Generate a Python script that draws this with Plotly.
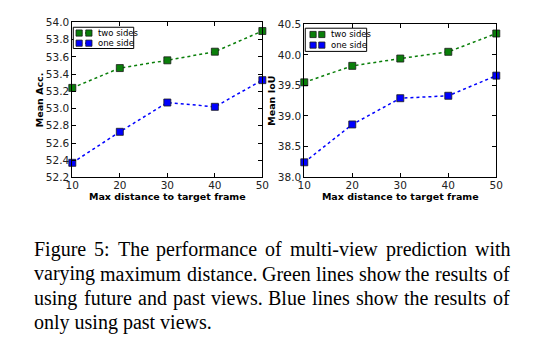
import plotly.graph_objects as go

x_vals = [10, 20, 30, 40, 50]
acc_two = [53.24, 53.47, 53.56, 53.66, 53.90]
acc_one = [52.37, 52.73, 53.07, 53.02, 53.33]
iou_two = [39.55, 39.82, 39.94, 40.05, 40.35]
iou_one = [38.24, 38.86, 39.29, 39.33, 39.66]
acc_ticks = [52.2, 52.4, 52.6, 52.8, 53.0, 53.2, 53.4, 53.6, 53.8, 54.0]
iou_ticks = [38.0, 38.5, 39.0, 39.5, 40.0, 40.5]
x_ticks = [10, 20, 30, 40, 50]
series_names = ["two sides", "one side"]
caption = [
    "Figure 5: The performance of multi-view prediction with",
    "varying maximum distance. Green lines show the results of",
    "using future and past views. Blue lines show the results of",
    "only using past views.",
]

W, H = 553, 352
GREEN = "#0a7f0a"
BLUE = "#0000ff"
EDGE = "#1a1a1a"

def px(v):
    return v / W

def py(v):
    return 1 - v / H

fig = go.Figure()

def add_series(xa, ya, y, name, color):
    fig.add_trace(go.Scatter(
        x=x_vals, y=y, name=name, xaxis=xa, yaxis=ya, mode="lines+markers",
        line=dict(color=color, width=1.5, dash="dot"),
        marker=dict(symbol="square", size=7, color=color, line=dict(color=EDGE, width=0.8)),
        showlegend=False, cliponaxis=False,
    ))

add_series("x", "y", acc_two, series_names[0], GREEN)
add_series("x", "y", acc_one, series_names[1], BLUE)
add_series("x2", "y2", iou_two, series_names[0], GREEN)
add_series("x2", "y2", iou_one, series_names[1], BLUE)

axis_common = dict(
    showline=True, linecolor="black", linewidth=1, mirror="allticks",
    ticks="inside", ticklen=4, tickcolor="black", showgrid=False, zeroline=False,
    tickfont=dict(family="DejaVu Sans", size=10.5, color="#222"),
)
title_font = dict(family="DejaVu Sans", size=9.5, color="black")

fig.update_layout(
    width=W, height=H, margin=dict(l=0, r=0, t=0, b=0),
    paper_bgcolor="white", plot_bgcolor="white",
    xaxis=dict(domain=[px(67), px(262)], anchor="y", range=[10, 50], tickvals=x_ticks,
               ticklabelstandoff=-2,
               title=dict(text="<b>Max distance to target frame</b>", font=title_font, standoff=0),
               **axis_common),
    yaxis=dict(domain=[py(177.5), py(17)], anchor="x", range=[52.2, 54.0], tickvals=acc_ticks,
               tickformat=".1f", ticklabelstandoff=0,
               title=dict(text="<b>Mean Acc.</b>", font=title_font, standoff=0),
               **axis_common),
    xaxis2=dict(domain=[px(305), px(502)], anchor="y2", range=[10, 50], tickvals=x_ticks,
                ticklabelstandoff=-2,
                title=dict(text="<b>Max distance to target frame</b>", font=title_font, standoff=0),
                **axis_common),
    yaxis2=dict(domain=[py(177), py(19)], anchor="x2", range=[38.0, 40.5], tickvals=iou_ticks,
                tickformat=".1f", ticklabelstandoff=0,
                title=dict(text="<b>Mean IoU</b>", font=title_font, standoff=0),
                **axis_common),
)

# manual compact legends (matplotlib style)
def add_legend(box, rows, sq1, sq2, text_x):
    x0, x1, y0, y1 = box
    fig.add_shape(type="rect", xref="paper", yref="paper", x0=px(x0), x1=px(x1), y0=py(y1), y1=py(y0),
                  line=dict(color="black", width=1), fillcolor="white")
    for name, color, ry in zip(series_names, [GREEN, BLUE], rows):
        fig.add_shape(type="line", xref="paper", yref="paper", x0=px(sq1), x1=px(sq2), y0=py(ry), y1=py(ry),
                      line=dict(color=color, width=1.5, dash="dot"))
        for cx in (sq1, sq2):
            fig.add_shape(type="rect", xref="paper", yref="paper", x0=px(cx - 3.2), x1=px(cx + 3.2),
                          y0=py(ry + 3.2), y1=py(ry - 3.2), fillcolor=color, line=dict(color=EDGE, width=0.8))
        fig.add_annotation(text=name, xref="paper", yref="paper", x=px(text_x), y=py(ry),
                           xanchor="left", yanchor="middle", showarrow=False,
                           font=dict(family="DejaVu Sans", size=8.5, color="black"))

add_legend((68, 130, 22, 44), (28, 38.5), 74, 84, 91)
add_legend((306, 369, 23, 47), (29.5, 40.5), 314, 323, 330)

# caption, justified like the paper's text (Times metrics, em/1000, per-glyph pixel rounding)
TIMES = {" ": 250, "a": 444, "b": 500, "c": 444, "d": 500, "e": 444, "f": 333, "g": 500, "h": 500,
         "i": 278, "j": 278, "k": 500, "l": 278, "m": 778, "n": 500, "o": 500, "p": 500, "q": 500,
         "r": 333, "s": 389, "t": 278, "u": 500, "v": 500, "w": 722, "x": 500, "y": 500, "z": 444,
         "F": 556, "G": 722, "B": 667, "T": 611, "5": 500, ":": 278, ".": 250, "-": 333, ",": 250}
FS = 20
LEFT, RIGHT = 27, 515

def word_w(wd):
    return sum(round(TIMES.get(c, 500) * FS / 1000) for c in wd)

for i, line in enumerate(caption):
    yc = py(252 + i * 25.3)
    font = dict(family="Liberation Serif", size=FS, color="black")
    if i == len(caption) - 1:
        fig.add_annotation(text=line, xref="paper", yref="paper", x=px(LEFT), y=yc,
                           xanchor="left", yanchor="middle", showarrow=False, font=font, borderpad=0)
        continue
    words = line.split(" ")
    total = sum(word_w(w) for w in words)
    gap = (RIGHT - LEFT - total) / (len(words) - 1)
    xpos = LEFT
    for j, w in enumerate(words):
        fig.add_annotation(text=w, xref="paper", yref="paper", x=px(xpos), y=yc,
                           xanchor="left", yanchor="middle", showarrow=False, font=font, borderpad=0)
        xpos += word_w(w) + gap

fig.write_html("out.html")
